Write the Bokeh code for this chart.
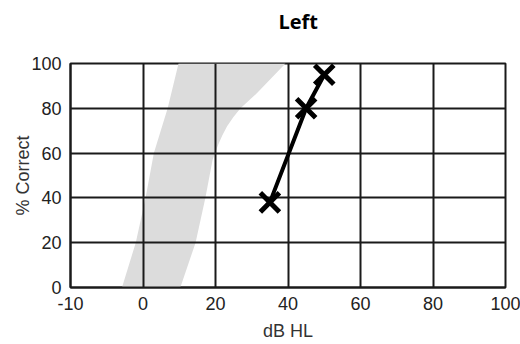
import numpy as np
from bokeh.plotting import figure
from bokeh.models import Range1d, FixedTicker, Title
from bokeh.embed import file_html
from bokeh.resources import INLINE

# Axis tick labels (dB HL) - equally spaced on the chart
x_ticks_db = [-10, 0, 20, 40, 60, 80, 100]
y_ticks = [0, 20, 40, 60, 80, 100]

# Measured points
score_db = [35, 45, 50]
score_pct = [38, 80, 95]

# Shaded normal-performance band
band_left_pct = [0, 20, 40, 60, 80, 100]
band_left_db = [-2.9, -1.0, 0.7, 3.0, 6.8, 9.8]
band_right_pct = [100, 87, 80, 76, 72, 68, 64, 57, 40, 20, 0]
band_right_db = [39.3, 31.6, 26.9, 24.9, 23.2, 21.9, 20.8, 19.2, 17.2, 14.5, 10.3]

tick_pos = list(range(len(x_ticks_db)))


def to_pos(db):
    return np.interp(np.asarray(db, dtype=float), x_ticks_db, tick_pos)


p = figure(width=520, height=344, output_backend="svg", toolbar_location=None,
           x_range=Range1d(0, len(x_ticks_db) - 1), y_range=Range1d(0, 100),
           title=None)
p.min_border_left = 70
p.min_border_right = 15
p.min_border_top = 63
p.min_border_bottom = 57

# spacer between frame and the title, then the title itself (outer)
p.add_layout(Title(text=" ", text_font_size="10px", standoff=7), "above")
p.add_layout(Title(text="Left", text_font="Open Sans", text_font_size="20px",
                   text_font_style="bold", align="left", offset=208,
                   vertical_align="top", standoff=14, text_color="#000000"), "above")

band_x = np.concatenate([to_pos(band_left_db), to_pos(band_right_db)])
band_y = list(band_left_pct) + list(band_right_pct)
p.patch(band_x, band_y, fill_color="#dcdcdc", line_color=None, level="image")

p.line(to_pos(score_db), score_pct, line_color="black", line_width=4)
p.scatter(to_pos(score_db), score_pct, marker="x", size=27, line_color="black", line_width=5)

p.xaxis.ticker = FixedTicker(ticks=tick_pos)
p.xaxis.major_label_overrides = {i: str(v) for i, v in zip(tick_pos, x_ticks_db)}
p.yaxis.ticker = FixedTicker(ticks=y_ticks)

for ax in (p.xaxis[0], p.yaxis[0]):
    ax.major_tick_line_color = None
    ax.minor_tick_line_color = None
    ax.axis_line_color = "#1a1a1a"
    ax.axis_line_width = 2
    ax.major_label_text_font = "Liberation Sans"
    ax.major_label_text_font_size = "18px"
    ax.major_label_text_color = "#222222"
    ax.axis_label_text_font = "Liberation Sans"
    ax.axis_label_text_font_size = "18px"
    ax.axis_label_text_font_style = "normal"
    ax.axis_label_text_color = "#333333"

p.xaxis.axis_label = "dB HL"
p.yaxis.axis_label = "% Correct"
p.xaxis.major_label_standoff = 3
p.yaxis.major_label_standoff = 3
p.xaxis.axis_label_standoff = 8
p.yaxis.axis_label_standoff = -5

p.xgrid.ticker = FixedTicker(ticks=tick_pos)
p.ygrid.ticker = FixedTicker(ticks=y_ticks)
p.grid.grid_line_color = "#1a1a1a"
p.grid.grid_line_width = 2
p.grid.grid_line_alpha = 1.0

p.outline_line_color = "#1a1a1a"
p.outline_line_width = 2
p.background_fill_color = "white"
p.border_fill_color = "white"

open("out.html", "w").write(file_html(p, INLINE))
